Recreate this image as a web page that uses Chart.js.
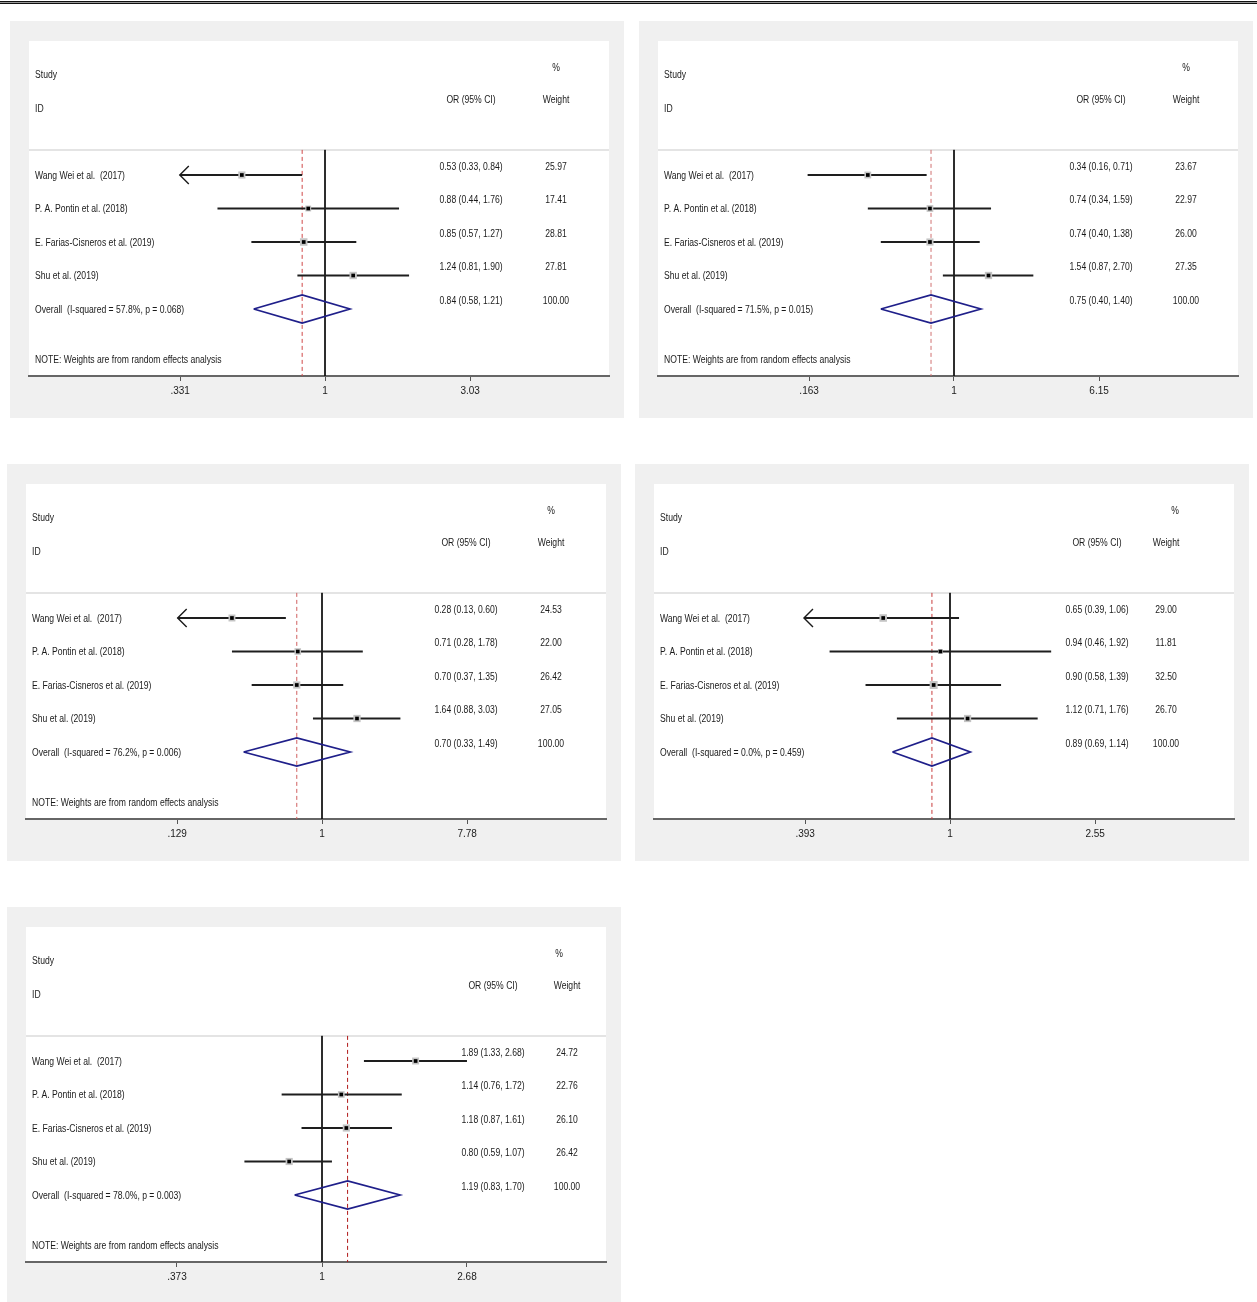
<!DOCTYPE html>
<html>
<head>
<meta charset="utf-8">
<script src="https://cdn.jsdelivr.net/npm/chart.js@4.4.1/dist/chart.umd.min.js"></script>
<style>
  html,body{margin:0;padding:0;background:#fff;}
  body{width:1257px;height:1302px;position:relative;overflow:hidden;}
  .topline{position:absolute;left:0;top:1px;width:1257px;height:1px;border-top:1px solid #111;border-bottom:1px solid #111;background:#999;}
  canvas{position:absolute;}
</style>
</head>
<body>
<div class="topline"></div>
<canvas id="p1" width="614" height="397" style="left:10px;top:21px"></canvas>
<canvas id="p2" width="614" height="397" style="left:639px;top:21px"></canvas>
<canvas id="p3" width="614" height="397" style="left:7px;top:464px"></canvas>
<canvas id="p4" width="614" height="397" style="left:635px;top:464px"></canvas>
<canvas id="p5" width="614" height="397" style="left:7px;top:907px"></canvas>
<script>
// study rows, same in every panel
const studies = ['Wang Wei et al.  (2017)', 'P. A. Pontin et al. (2018)', 'E. Farias-Cisneros et al. (2019)', 'Shu et al. (2019)'];

// panel 1
const p1Est = [0.53, 0.88, 0.85, 1.24];
const p1Lo = [0.33, 0.44, 0.57, 0.81];
const p1Hi = [0.84, 1.76, 1.27, 1.90];
const p1Wt = [25.97, 17.41, 28.81, 27.81];
const p1Overall = [0.84, 0.58, 1.21];
const p1Het = ['57.8%', '0.068'];
const p1Ticks = [0.331, 1, 3.03];
const p1TickLabels = ['.331', '1', '3.03'];
const p1Arrow = [true, false, false, false];

// panel 2
const p2Est = [0.34, 0.74, 0.74, 1.54];
const p2Lo = [0.16, 0.34, 0.40, 0.87];
const p2Hi = [0.71, 1.59, 1.38, 2.70];
const p2Wt = [23.67, 22.97, 26.00, 27.35];
const p2Overall = [0.75, 0.40, 1.40];
const p2Het = ['71.5%', '0.015'];
const p2Ticks = [0.163, 1, 6.15];
const p2TickLabels = ['.163', '1', '6.15'];
const p2Arrow = [false, false, false, false];

// panel 3
const p3Est = [0.28, 0.71, 0.70, 1.64];
const p3Lo = [0.13, 0.28, 0.37, 0.88];
const p3Hi = [0.60, 1.78, 1.35, 3.03];
const p3Wt = [24.53, 22.00, 26.42, 27.05];
const p3Overall = [0.70, 0.33, 1.49];
const p3Het = ['76.2%', '0.006'];
const p3Ticks = [0.129, 1, 7.78];
const p3TickLabels = ['.129', '1', '7.78'];
const p3Arrow = [true, false, false, false];

// panel 4
const p4Est = [0.65, 0.94, 0.90, 1.12];
const p4Lo = [0.39, 0.46, 0.58, 0.71];
const p4Hi = [1.06, 1.92, 1.39, 1.76];
const p4Wt = [29.00, 11.81, 32.50, 26.70];
const p4Overall = [0.89, 0.69, 1.14];
const p4Het = ['0.0%', '0.459'];
const p4Ticks = [0.393, 1, 2.55];
const p4TickLabels = ['.393', '1', '2.55'];
const p4Arrow = [true, false, false, false];

// panel 5
const p5Est = [1.89, 1.14, 1.18, 0.80];
const p5Lo = [1.33, 0.76, 0.87, 0.59];
const p5Hi = [2.68, 1.72, 1.61, 1.07];
const p5Wt = [24.72, 22.76, 26.10, 26.42];
const p5Overall = [1.19, 0.83, 1.70];
const p5Het = ['78.0%', '0.003'];
const p5Ticks = [0.373, 1, 2.68];
const p5TickLabels = ['.373', '1', '2.68'];
const p5Arrow = [false, false, false, false];

const noteText = 'NOTE: Weights are from random effects analysis';

// rows on the y scale (reversed): header rows negative, overall = 4
const overallRow = 4, noteRow = 5.5, sepRow = -0.75, yMin = -4, yMax = 6;

const panels = [
  {id:'p1', est:p1Est, lo:p1Lo, hi:p1Hi, wt:p1Wt, ov:p1Overall, het:p1Het, ticks:p1Ticks, tickLabels:p1TickLabels, arrow:p1Arrow, note:true, orX:442, wtX:527, pctX:527, red:'#d04848'},
  {id:'p2', est:p2Est, lo:p2Lo, hi:p2Hi, wt:p2Wt, ov:p2Overall, het:p2Het, ticks:p2Ticks, tickLabels:p2TickLabels, arrow:p2Arrow, note:true, orX:443, wtX:528, pctX:528, red:'#d07070'},
  {id:'p3', est:p3Est, lo:p3Lo, hi:p3Hi, wt:p3Wt, ov:p3Overall, het:p3Het, ticks:p3Ticks, tickLabels:p3TickLabels, arrow:p3Arrow, note:true, orX:440, wtX:525, pctX:525, red:'#d06060'},
  {id:'p4', est:p4Est, lo:p4Lo, hi:p4Hi, wt:p4Wt, ov:p4Overall, het:p4Het, ticks:p4Ticks, tickLabels:p4TickLabels, arrow:p4Arrow, note:false, orX:443, wtX:512, pctX:521, red:'#c83c3c'},
  {id:'p5', est:p5Est, lo:p5Lo, hi:p5Hi, wt:p5Wt, ov:p5Overall, het:p5Het, ticks:p5Ticks, tickLabels:p5TickLabels, arrow:p5Arrow, note:true, orX:467, wtX:541, pctX:533, red:'#b01818'}
];

const FONT = '10px "Liberation Sans", Arial, sans-serif';
const TXT = '#1a1a1a';

function txt(ctx, s, x, y, align){
  ctx.save();
  ctx.translate(x, y + 1);
  ctx.scale(0.86, 1);
  ctx.textAlign = align;
  ctx.textBaseline = 'middle';
  ctx.fillStyle = TXT;
  ctx.font = FONT;
  ctx.fillText(s, 0, 0);
  ctx.restore();
}
const f2 = v => v.toFixed(2);

function forestPlugin(p){
  return {
    id: 'forest',
    beforeDraw(chart){
      const {ctx, chartArea:a, width, height} = chart;
      ctx.save();
      ctx.fillStyle = '#f0f0f0';
      ctx.fillRect(0, 0, width, height);
      ctx.fillStyle = '#fff';
      ctx.fillRect(a.left, a.top, a.right - a.left, a.bottom - a.top);
      const ys = chart.scales.y.getPixelForValue(sepRow);
      ctx.strokeStyle = '#e4e4e4';
      ctx.lineWidth = 2;
      ctx.beginPath(); ctx.moveTo(a.left, ys); ctx.lineTo(a.right, ys); ctx.stroke();
      ctx.restore();
    },
    afterDatasetsDraw(chart){
      const {ctx, chartArea:a} = chart;
      const xs = chart.scales.x, ys = chart.scales.y;
      const lx = a.left + 6;
      const py = v => ys.getPixelForValue(v);
      // header
      txt(ctx, 'Study', lx, py(-3), 'left');
      txt(ctx, 'ID', lx, py(-2), 'left');
      txt(ctx, '%', a.left + p.pctX, py(-3.22), 'center');
      txt(ctx, 'OR (95% CI)', a.left + p.orX, py(-2.27), 'center');
      txt(ctx, 'Weight', a.left + p.wtX, py(-2.27), 'center');
      // study rows
      studies.forEach((s, i) => {
        txt(ctx, s, lx, py(i), 'left');
        txt(ctx, `${f2(p.est[i])} (${f2(p.lo[i])}, ${f2(p.hi[i])})`, a.left + p.orX, py(i - 0.27), 'center');
        txt(ctx, f2(p.wt[i]), a.left + p.wtX, py(i - 0.27), 'center');
      });
      txt(ctx, `Overall  (I-squared = ${p.het[0]}, p = ${p.het[1]})`, lx, py(overallRow), 'left');
      txt(ctx, `${f2(p.ov[0])} (${f2(p.ov[1])}, ${f2(p.ov[2])})`, a.left + p.orX, py(overallRow - 0.27), 'center');
      txt(ctx, '100.00', a.left + p.wtX, py(overallRow - 0.27), 'center');
      if (p.note) txt(ctx, noteText, lx, py(noteRow), 'left');
      // arrowheads where CI runs past the axis range
      ctx.save();
      ctx.strokeStyle = '#1a1a1a';
      ctx.lineWidth = 1.4;
      p.arrow.forEach((on, i) => {
        if (!on) return;
        const x = xs.getPixelForValue(p.lo[i]), y = py(i);
        ctx.beginPath();
        ctx.moveTo(x + 9, y - 9); ctx.lineTo(x, y); ctx.lineTo(x + 9, y + 9);
        ctx.stroke();
      });
      ctx.restore();
    }
  };
}

function build(p){
  const lnT = (Math.log(p.ticks[2]) - Math.log(p.ticks[0])) / 2;
  const xMin = Math.exp(-lnT * 296 / 145), xMax = Math.exp(lnT * 284 / 145);
  const ds = [];
  ds.push({type:'scatter', data:p.est.map((v, i) => ({x:v, y:i})), pointStyle:'rect',
    pointRadius:2.6, backgroundColor:'#000', borderWidth:0, order:0});
  ds.push({type:'scatter', data:p.est.map((v, i) => ({x:v, y:i})), pointStyle:'rect',
    pointRadius:p.wt.map(w => 1.4 * Math.sqrt(w) / Math.SQRT2), backgroundColor:'#c4c4c4', borderWidth:0, order:1});
  p.est.forEach((v, i) => ds.push({type:'line', data:[{x:p.lo[i], y:i}, {x:p.hi[i], y:i}],
    borderColor:'#1e1e1e', borderWidth:1.8, pointRadius:0, order:2}));
  const [oe, ol, oh] = p.ov;
  ds.push({type:'line', data:[{x:ol, y:overallRow}, {x:oe, y:overallRow - 0.42}, {x:oh, y:overallRow},
    {x:oe, y:overallRow + 0.42}, {x:ol, y:overallRow}], borderColor:'#1f1f8a', borderWidth:1.7,
    pointRadius:0, tension:0, order:3});
  ds.push({type:'line', data:[{x:oe, y:sepRow}, {x:oe, y:yMax}], borderColor:p.red, borderWidth:1,
    borderDash:[4, 3], pointRadius:0, order:4});
  ds.push({type:'line', data:[{x:1, y:sepRow}, {x:1, y:yMax}], borderColor:'#111', borderWidth:1,
    pointRadius:0, order:5});

  new Chart(document.getElementById(p.id), {
    data:{datasets:ds},
    options:{
      responsive:false, animation:false, events:[],
      layout:{padding:{left:19, top:20, right:15, bottom:0}},
      plugins:{legend:{display:false}, tooltip:{enabled:false}},
      scales:{
        x:{type:'logarithmic', min:xMin, max:xMax,
          afterBuildTicks:s => { s.ticks = p.ticks.map(v => ({value:v})); },
          afterFit:s => { s.height = 42; },
          ticks:{autoSkip:false, maxRotation:0, padding:4, color:TXT,
            font:{family:'"Liberation Sans", Arial, sans-serif', size:10},
            callback:(v, i) => p.tickLabels[i]},
          grid:{drawOnChartArea:false, drawTicks:true, tickLength:5, color:'#555', lineWidth:1},
          border:{display:true, color:'#666', width:2}},
        y:{type:'linear', display:false, reverse:true, min:yMin, max:yMax}
      }
    },
    plugins:[forestPlugin(p)]
  });
}

panels.forEach(build);
</script>
</body>
</html>
